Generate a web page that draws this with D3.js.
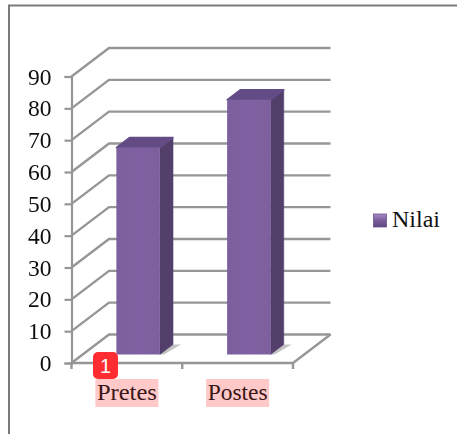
<!DOCTYPE html>
<html>
<head>
<meta charset="utf-8">
<script src="https://cdn.jsdelivr.net/npm/d3@7"></script>
<style>
html, body { margin: 0; padding: 0; background: #fff; }
svg { display: block; }
text { font-family: "Liberation Serif", serif; fill: #1a1a1a; }
</style>
</head>
<body>
<svg id="chart" width="457" height="434"></svg>
<script>
var categories = ["Pretes", "Postes"];
var values = [65, 80];
var yTicks = [0, 10, 20, 30, 40, 50, 60, 70, 80, 90];
var seriesName = "Nilai";
var badgeLabel = "1";

var svg = d3.select("#chart");
var defs = svg.append("defs");

defs.append("filter").attr("id", "soft")
    .attr("x", "-5%").attr("y", "-5%").attr("width", "110%").attr("height", "110%")
    .append("feGaussianBlur").attr("stdDeviation", "0.5");

var front = defs.append("linearGradient").attr("id", "barFront");
front.append("stop").attr("offset", "0").attr("stop-color", "#7c5e9d");
front.append("stop").attr("offset", "0.5").attr("stop-color", "#8061a1");
front.append("stop").attr("offset", "1").attr("stop-color", "#7d5f9e");

var swatch = defs.append("linearGradient").attr("id", "swatchFill")
    .attr("x1", "0").attr("y1", "0").attr("x2", "0").attr("y2", "1");
swatch.append("stop").attr("offset", "0").attr("stop-color", "#a58cc4");
swatch.append("stop").attr("offset", "0.5").attr("stop-color", "#7a5c9c");
swatch.append("stop").attr("offset", "1").attr("stop-color", "#5f4780");

// frame around the chart, runs off the picture on the right and bottom
svg.append("path")
    .attr("d", "M9,434 V5.5 H457")
    .style("fill", "none")
    .style("stroke", "#7a7a7a")
    .style("stroke-width", 2);

var chart = svg.append("g").attr("filter", "url(#soft)");

var x = d3.scaleBand().domain(categories).range([71.5, 293]).paddingInner(0).paddingOuter(0);
var y = d3.scaleLinear().domain([0, 90]).range([363, 76.5]);

// depth goes from the front plane (0) to the back wall (1)
var depthX = 37.5;
var depthY = -28.5;

function pt(px, py, depth){
    return (px + depth * depthX) + "," + (py + depth * depthY);
}

function poly(points){
    return "M" + points.join("L") + "Z";
}

// walls and floor
var wallColor = "#969696";
var grid = chart.append("g")
    .style("fill", "none")
    .style("stroke", wallColor)
    .style("stroke-width", 2.4);

grid.selectAll("path.grid")
    .data(yTicks)
    .enter().append("path")
    .attr("class", "grid")
    .attr("d", function(d){
        return "M" + pt(x.range()[0], y(d), 0) + "L" + pt(x.range()[0], y(d), 1) + "L" + pt(x.range()[1], y(d), 1);
    });

grid.append("path")
    .attr("d", "M" + pt(x.range()[0], y(0), 0) + "L" + pt(x.range()[1], y(0), 0) + "L" + pt(x.range()[1], y(0), 1));

// category ticks sit on the band edges
grid.selectAll("path.catTick")
    .data(categories.concat([null]))
    .enter().append("path")
    .attr("class", "catTick")
    .attr("d", function(d){
        var px = d === null ? x.range()[1] : x(d);
        return "M" + px + "," + y(0) + "V" + (y(0) + 6);
    });

// value axis
var yAxis = chart.append("g")
    .attr("transform", "translate(" + x.range()[0] + ",0)")
    .call(d3.axisLeft(y).tickValues(yTicks).tickSize(7).tickPadding(13));
yAxis.selectAll("path, line").style("stroke", wallColor).style("stroke-width", 2.2);
yAxis.selectAll("text")
    .style("font-family", '"Liberation Serif", serif')
    .style("font-size", "23.5px")
    .style("fill", "#111");

// bars
var barWidth = 43.5;
var barStart = 0.3;
var barEnd = 0.65;

var bars = chart.selectAll("g.bar")
    .data(categories)
    .enter().append("g")
    .attr("class", "bar");

function barLeft(d){
    return x(d) + x.bandwidth() / 2 - barWidth / 2;
}
function barVal(d){
    return values[categories.indexOf(d)];
}

// floor shadow
bars.append("path")
    .attr("d", function(d){
        var l = barLeft(d), r = l + barWidth;
        return poly([pt(r, y(0), barStart), pt(r + 4, y(0), barStart), pt(r + 8, y(0), barEnd), pt(r, y(0), barEnd)]);
    })
    .style("fill", "#c4c4c4");

bars.append("path")
    .attr("d", function(d){
        var r = barLeft(d) + barWidth;
        return poly([pt(r, y(0), barStart), pt(r, y(0), barEnd), pt(r, y(barVal(d)), barEnd), pt(r, y(barVal(d)), barStart)]);
    })
    .style("fill", "#523f6b")
    .style("stroke", "#523f6b")
    .style("stroke-width", 0.6)
    .style("stroke-linejoin", "round");

bars.append("path")
    .attr("d", function(d){
        var l = barLeft(d), r = l + barWidth;
        return poly([pt(l, y(barVal(d)), barStart), pt(r, y(barVal(d)), barStart), pt(r, y(barVal(d)), barEnd), pt(l, y(barVal(d)), barEnd)]);
    })
    .style("fill", "#644c85")
    .style("stroke", "#644c85")
    .style("stroke-width", 1.6)
    .style("stroke-linejoin", "round");

bars.append("path")
    .attr("d", function(d){
        var l = barLeft(d), r = l + barWidth;
        return poly([pt(l, y(0), barStart), pt(r, y(0), barStart), pt(r, y(barVal(d)), barStart), pt(l, y(barVal(d)), barStart)]);
    })
    .style("fill", "url(#barFront)");

// category labels with the pink highlight behind them
var labels = svg.selectAll("g.catLabel")
    .data(categories)
    .enter().append("g")
    .attr("class", "catLabel");

labels.append("rect")
    .attr("x", function(d){ return x(d) + x.bandwidth() / 2 - 31.5; })
    .attr("y", 379)
    .attr("width", 63)
    .attr("height", 28)
    .style("fill", "#ffc9c9");

labels.append("text")
    .attr("x", function(d){ return x(d) + x.bandwidth() / 2; })
    .attr("y", 400)
    .attr("text-anchor", "middle")
    .attr("textLength", 60)
    .attr("lengthAdjust", "spacingAndGlyphs")
    .style("font-size", "24px")
    .style("fill", "#3a1616")
    .text(function(d){ return d; });

// legend
var legend = svg.append("g");
legend.append("rect")
    .attr("x", 373.5)
    .attr("y", 214)
    .attr("width", 13)
    .attr("height", 13)
    .style("fill", "url(#swatchFill)")
    .style("stroke", "#6a5288")
    .style("stroke-width", 0.8);
legend.append("text")
    .attr("x", 392)
    .attr("y", 227)
    .attr("textLength", 48)
    .attr("lengthAdjust", "spacingAndGlyphs")
    .style("font-size", "24px")
    .style("fill", "#111")
    .text(seriesName);

// red marker badge over the first label
var badge = svg.append("g");
badge.append("rect")
    .attr("x", 93)
    .attr("y", 352)
    .attr("width", 25)
    .attr("height", 27)
    .attr("rx", 5)
    .style("fill", "#ff2d32");
badge.append("text")
    .attr("x", 105.5)
    .attr("y", 373)
    .attr("text-anchor", "middle")
    .style("font-family", "'Liberation Sans', sans-serif")
    .style("font-size", "20px")
    .style("fill", "#fff")
    .text(badgeLabel);
</script>
</body>
</html>
